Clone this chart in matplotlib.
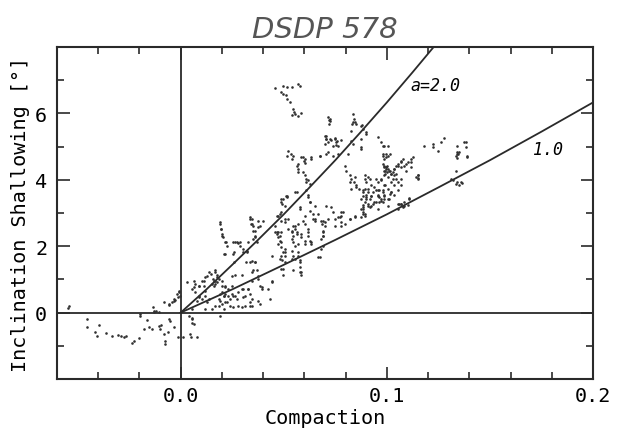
import matplotlib
matplotlib.use("Agg")
import matplotlib.pyplot as plt
from matplotlib.ticker import MultipleLocator

# scatter points (compaction, inclination shallowing in degrees)
pts_negative = [
    (-0.0544, 0.21), (-0.0548, 0.14), (-0.0452, -0.19), (-0.0452, -0.44), (-0.0415, -0.57),
    (-0.0396, -0.37), (-0.0404, -0.71), (-0.0364, -0.61), (-0.0335, -0.69), (-0.0306, -0.67),
    (-0.0291, -0.69), (-0.0275, -0.73), (-0.0267, -0.71), (-0.0235, -0.91), (-0.0227, -0.85),
    (-0.0200, -0.75), (-0.0195, -0.09), (-0.0195, -0.04), (-0.0179, -0.49), (-0.0163, -0.21),
    (-0.0155, -0.44), (-0.0138, -0.49), (-0.0134, 0.16), (-0.0130, 0.01), (-0.0122, 0.06),
    (-0.0106, -0.39), (-0.0098, -0.49), (-0.0093, -0.37), (-0.0082, -0.64), (-0.0077, -0.94),
    (-0.0074, -0.87), (-0.0061, -0.59), (-0.0055, -0.19), (-0.0050, -0.24), (-0.0034, -0.44),
    (-0.0082, 0.31), (-0.0058, 0.26), (-0.0042, 0.31), (-0.0034, 0.41), (-0.0026, 0.37),
    (-0.0018, 0.56), (-0.0010, 0.66), (-0.0006, 0.61), (-0.0002, 0.51), (-0.0013, -0.74),
    (-0.0127, 0.06), (-0.0106, 0.03), (-0.0058, 0.23), (-0.0034, 0.36), (-0.0014, 0.46),
]

pts_origin = [
    (0.0010, -0.74), (0.0047, -0.64), (0.0052, -0.74), (0.0055, -0.31), (0.0055, -0.17),
    (0.0079, -0.74), (0.0055, -0.19), (0.0063, -0.34), (0.0039, -0.09), (0.0192, -0.09),
    (0.0135, 1.22), (0.0148, 1.16), (0.0167, 1.27), (0.0176, 1.12), (0.0184, 1.01),
    (0.0160, 0.96), (0.0167, 0.86), (0.0119, 1.06), (0.0103, 0.96), (0.0087, 0.81),
    (0.0071, 0.86), (0.0063, 0.76), (0.0055, 0.71), (0.0031, 0.91), (0.0200, 0.96),
    (0.0216, 0.81), (0.0232, 0.71), (0.0216, 0.56), (0.0208, 0.49), (0.0192, 0.56),
    (0.0184, 0.41), (0.0200, 0.26), (0.0224, 0.31), (0.0240, 0.41), (0.0248, 0.56),
    (0.0264, 0.51), (0.0280, 0.61), (0.0296, 0.71), (0.0304, 0.46), (0.0312, 0.21),
    (0.0280, 0.21), (0.0256, 0.16), (0.0240, 0.21), (0.0167, 0.21), (0.0151, 0.11),
    (0.0135, 0.41), (0.0119, 0.51), (0.0119, 0.66), (0.0103, 0.41), (0.0087, 0.51),
    (0.0079, 0.36), (0.0055, 0.11), (0.0208, 0.11), (0.0216, 0.31), (0.0296, 0.16),
    (0.0337, 0.21), (0.0345, 0.41), (0.0337, 0.56), (0.0329, 0.71), (0.0111, 0.81),
    (0.0119, 0.11), (0.0127, 0.31), (0.0087, 0.46), (0.0071, 0.61), (0.0087, 0.81),
    (0.0063, 0.96), (0.0111, 0.96), (0.0127, 1.11), (0.0167, 1.21), (0.0176, 1.06),
    (0.0200, 0.81), (0.0248, 0.81), (0.0248, 1.11), (0.0159, 1.01), (0.0167, 0.96),
    (0.0176, 0.91), (0.0151, 0.86), (0.0164, 0.81), (0.0200, 0.61), (0.0208, 0.51),
    (0.0216, 0.76), (0.0232, 0.51), (0.0256, 0.51), (0.0272, 0.41), (0.0304, 0.71),
    (0.0312, 0.51), (0.0328, 0.71), (0.0336, 0.31), (0.0345, 0.21), (0.0377, 0.36),
    (0.0385, 0.26), (0.0393, 0.71), (0.0433, 0.41), (0.0441, 0.96), (0.0345, 0.96),
    (0.0192, 0.36), (0.0184, 0.21),
]

pts_lower = [
    (0.0192, 2.67), (0.0196, 2.52), (0.0200, 2.37), (0.0203, 2.27), (0.0219, 2.12),
    (0.0256, 2.12), (0.0272, 2.14), (0.0288, 2.12), (0.0325, 2.12), (0.0337, 2.82),
    (0.0341, 2.67), (0.0353, 2.47), (0.0361, 2.27), (0.0208, 1.77), (0.0256, 1.77),
    (0.0304, 1.92), (0.0320, 1.82), (0.0345, 1.54), (0.0316, 1.52), (0.0296, 1.12),
    (0.0264, 1.12), (0.0353, 1.27), (0.0216, 2.12), (0.0224, 2.02), (0.0264, 2.12),
    (0.0280, 2.10), (0.0288, 2.02), (0.0213, 1.77), (0.0261, 1.82), (0.0304, 1.82),
    (0.0320, 1.87), (0.0345, 2.82), (0.0353, 2.62), (0.0361, 2.32), (0.0336, 1.52),
    (0.0345, 1.21), (0.0361, 1.52), (0.0377, 1.11), (0.0385, 0.81), (0.0261, 1.52),
    (0.0336, 2.87), (0.0344, 2.67), (0.0377, 2.77), (0.0385, 2.62), (0.0191, 2.72),
    (0.0196, 2.52), (0.0200, 2.32), (0.0377, 2.57), (0.0360, 2.47), (0.0401, 2.77),
    (0.0352, 2.22), (0.0369, 2.12), (0.0369, 1.27), (0.0377, 1.02), (0.0360, 1.52),
    (0.0425, 0.71), (0.0393, 0.76), (0.0441, 0.92), (0.0497, 1.32), (0.0497, 1.12),
    (0.0546, 1.27), (0.0583, 1.22), (0.0586, 1.12), (0.0578, 1.37), (0.0578, 1.57),
    (0.0538, 1.62), (0.0554, 1.62), (0.0570, 1.72), (0.0489, 1.32), (0.0506, 1.52),
    (0.0506, 1.82), (0.0489, 1.72), (0.0441, 1.72), (0.0578, 1.52), (0.0578, 1.21),
]

pts_middle = [
    (0.0473, 2.92), (0.0489, 3.02), (0.0505, 2.82), (0.0457, 2.62), (0.0465, 2.42),
    (0.0489, 2.42), (0.0522, 2.52), (0.0554, 2.62), (0.0562, 2.42), (0.0586, 2.37),
    (0.0618, 2.42), (0.0650, 2.82), (0.0691, 2.42), (0.0699, 2.62), (0.0465, 2.92),
    (0.0481, 2.97), (0.0489, 2.77), (0.0505, 2.72), (0.0521, 2.82), (0.0457, 2.42),
    (0.0465, 2.37), (0.0473, 2.27), (0.0481, 2.17), (0.0473, 2.07), (0.0489, 1.97),
    (0.0505, 1.92), (0.0497, 1.82), (0.0505, 1.72), (0.0481, 1.62), (0.0493, 1.57),
    (0.0538, 2.47), (0.0546, 2.32), (0.0554, 2.52), (0.0562, 2.37), (0.0546, 2.12),
    (0.0554, 2.02), (0.0538, 1.87), (0.0546, 1.72), (0.0586, 2.27), (0.0602, 2.17),
    (0.0626, 2.17), (0.0634, 2.07), (0.0618, 2.52), (0.0594, 2.77), (0.0602, 2.92),
    (0.0578, 3.12), (0.0626, 3.07), (0.0642, 2.97), (0.0642, 2.82), (0.0650, 2.77),
    (0.0690, 2.77), (0.0686, 2.67), (0.0707, 3.22), (0.0731, 3.17), (0.0747, 2.82),
    (0.0771, 2.87), (0.0779, 2.92), (0.0787, 3.02), (0.0779, 2.62), (0.0819, 2.82),
    (0.0844, 2.87), (0.0876, 2.87), (0.0884, 3.12), (0.0892, 2.97), (0.0690, 2.47),
    (0.0690, 2.32), (0.0690, 2.02), (0.0682, 1.92), (0.0674, 1.67), (0.0538, 2.42),
    (0.0538, 2.22), (0.0546, 2.62), (0.0570, 2.07), (0.0570, 1.82), (0.0602, 2.07),
    (0.0618, 2.32), (0.0634, 2.12), (0.0667, 1.67), (0.0683, 2.22), (0.0691, 2.32),
    (0.0715, 2.82), (0.0747, 2.62), (0.0779, 2.72), (0.0570, 2.67), (0.0602, 2.67),
    (0.0473, 2.42), (0.0481, 2.32), (0.0489, 2.12), (0.0667, 2.97), (0.0683, 2.77),
    (0.0699, 2.72), (0.0739, 3.02), (0.0779, 3.02), (0.0763, 2.87), (0.0844, 2.92),
    (0.0819, 2.82), (0.0795, 2.67), (0.0497, 3.42), (0.0513, 3.50), (0.0493, 3.27),
    (0.0554, 3.63), (0.0610, 3.68), (0.0618, 3.48), (0.0626, 3.32), (0.0489, 3.33),
    (0.0505, 3.22), (0.0518, 3.52), (0.0562, 3.63), (0.0578, 3.17), (0.0626, 3.33),
    (0.0650, 3.22), (0.0514, 3.48), (0.0489, 3.42), (0.0618, 3.55),
]

pts_upper = [
    (0.0457, 6.76), (0.0497, 6.84), (0.0514, 6.79), (0.0538, 6.79), (0.0570, 6.89),
    (0.0578, 6.82), (0.0486, 6.64), (0.0497, 6.59), (0.0509, 6.54), (0.0518, 6.44),
    (0.0530, 6.34), (0.0546, 6.14), (0.0551, 6.05), (0.0557, 5.98), (0.0570, 5.93),
    (0.0583, 6.02), (0.0541, 5.95), (0.0718, 5.81), (0.0718, 5.68), (0.0707, 5.33),
    (0.0707, 5.23), (0.0715, 5.13), (0.0731, 5.21), (0.0747, 5.23), (0.0760, 5.18),
    (0.0739, 5.03), (0.0755, 5.05), (0.0522, 4.88), (0.0534, 4.78), (0.0546, 4.71),
    (0.0538, 4.63), (0.0518, 4.73), (0.0562, 4.43), (0.0570, 4.33), (0.0567, 4.48),
    (0.0594, 4.68), (0.0599, 4.58), (0.0602, 4.51), (0.0634, 4.63), (0.0674, 4.71),
    (0.0715, 4.83), (0.0594, 4.23), (0.0602, 4.13), (0.0610, 4.03), (0.0618, 3.98),
    (0.0626, 3.88), (0.0570, 4.23), (0.0610, 3.93), (0.0723, 5.83), (0.0715, 5.89),
    (0.0723, 5.78), (0.0836, 5.98), (0.0843, 5.83), (0.0836, 5.73), (0.0852, 5.68),
    (0.0881, 5.65), (0.0884, 5.53), (0.0699, 5.33), (0.0707, 5.23), (0.0702, 5.08),
    (0.0723, 5.23), (0.0747, 5.25), (0.0755, 5.13), (0.0780, 5.21), (0.0763, 5.03),
    (0.0828, 5.18), (0.0836, 5.08), (0.0876, 5.23), (0.0900, 5.38), (0.0957, 5.28),
    (0.0972, 5.13), (0.0988, 5.03), (0.0876, 4.98), (0.0586, 4.68), (0.0602, 4.63),
    (0.0634, 4.68), (0.0674, 4.73), (0.0707, 4.78), (0.0739, 4.73), (0.0763, 4.78),
    (0.0812, 4.78), (0.0831, 5.68), (0.0847, 5.73), (0.0876, 5.63), (0.0900, 5.43),
    (0.0828, 5.48), (0.0876, 4.93), (0.0981, 5.03), (0.1005, 5.03), (0.0981, 4.78),
    (0.0997, 4.68), (0.1013, 4.78),
]

pts_cluster = [
    (0.0795, 4.43), (0.0803, 4.28), (0.0819, 4.13), (0.0828, 4.03), (0.0843, 3.93),
    (0.0852, 3.83), (0.0980, 4.48), (0.0988, 4.43), (0.0996, 4.38), (0.1004, 4.33),
    (0.0985, 4.28), (0.1001, 4.23), (0.1012, 4.28), (0.1020, 4.18), (0.1028, 4.23),
    (0.1036, 4.33), (0.1044, 4.43), (0.1053, 4.48), (0.1069, 4.53), (0.1085, 4.43),
    (0.1101, 4.53), (0.1117, 4.63), (0.1125, 4.68), (0.0988, 4.63), (0.0980, 4.73),
    (0.0996, 4.78), (0.1004, 4.73), (0.1036, 4.13), (0.1044, 4.03), (0.1053, 3.93),
    (0.0988, 4.13), (0.0972, 4.03), (0.0956, 3.93), (0.0988, 3.83), (0.1004, 3.73),
    (0.1020, 3.63), (0.1036, 3.53), (0.0988, 3.53), (0.0972, 3.43), (0.0980, 3.33),
    (0.1012, 3.43), (0.0924, 3.83), (0.0908, 3.73), (0.0900, 3.53), (0.0916, 3.43),
    (0.0932, 3.63), (0.0883, 3.63), (0.0867, 3.73), (0.0875, 3.43), (0.0892, 3.33),
    (0.0883, 3.23), (0.0875, 3.13), (0.0883, 3.03), (0.0892, 2.92), (0.0932, 3.28),
    (0.0948, 3.33), (0.0956, 3.53), (0.0964, 3.68), (0.0892, 4.03), (0.0900, 3.93),
    (0.0908, 4.08), (0.0916, 4.03), (0.1149, 4.13), (0.1149, 4.05), (0.0819, 3.93),
    (0.0827, 3.73), (0.0844, 4.08), (0.0852, 3.78), (0.0892, 4.13), (0.0892, 3.73),
    (0.0884, 3.52), (0.0900, 3.42), (0.0924, 3.52), (0.0908, 3.22), (0.0884, 3.17),
    (0.0884, 2.97), (0.0940, 3.33), (0.0972, 3.37), (0.0988, 3.52), (0.1005, 3.42),
    (0.1013, 3.58), (0.1053, 3.27), (0.1077, 3.22), (0.1109, 3.42), (0.0900, 3.48),
    (0.0908, 3.63), (0.0884, 3.68), (0.0924, 3.52), (0.0956, 3.52), (0.0964, 3.32),
    (0.0988, 3.42), (0.0980, 3.68), (0.0948, 3.68), (0.0908, 3.27), (0.0916, 3.17),
    (0.1070, 4.58), (0.1077, 4.63), (0.1093, 4.48), (0.1117, 4.53), (0.1053, 4.43),
    (0.1037, 4.33), (0.1070, 4.38), (0.1045, 4.18), (0.1070, 4.03), (0.1093, 4.28),
    (0.1117, 4.38), (0.1149, 4.13), (0.1153, 4.03), (0.1070, 3.83), (0.1053, 3.68),
    (0.1021, 3.63), (0.1021, 3.93), (0.0997, 4.33), (0.0989, 4.18), (0.1005, 4.08),
    (0.1029, 4.03), (0.1037, 3.83), (0.0989, 3.83), (0.0973, 3.98), (0.0948, 4.03),
    (0.0940, 3.78), (0.0956, 3.68), (0.0981, 3.63), (0.0964, 3.47), (0.1005, 3.22),
    (0.1053, 3.12), (0.1061, 3.27), (0.1077, 3.17), (0.0956, 3.12), (0.0924, 3.22),
    (0.0985, 4.38), (0.0992, 4.28), (0.1001, 4.43), (0.1013, 4.28), (0.1018, 4.18),
    (0.0997, 4.38), (0.1069, 3.27), (0.1085, 3.22), (0.1101, 3.24), (0.1069, 3.28),
    (0.1085, 3.33), (0.1109, 3.45), (0.1141, 4.08),
]

pts_right = [
    (0.1181, 5.03), (0.1222, 5.08), (0.1222, 4.98), (0.1246, 4.88), (0.1262, 5.13),
    (0.1278, 5.25), (0.1339, 5.03), (0.1342, 4.78), (0.1350, 4.83), (0.1334, 4.73),
    (0.1375, 5.13), (0.1383, 4.98), (0.1391, 4.71), (0.1334, 4.28), (0.1342, 3.93),
    (0.1350, 3.83), (0.1366, 3.91), (0.1340, 4.83), (0.1346, 4.78), (0.1340, 4.65),
    (0.1383, 5.13), (0.1388, 4.68), (0.1311, 4.03), (0.1319, 3.98), (0.1335, 3.88),
    (0.1362, 3.93),
]

# model curves: shallowing vs compaction for a = 2.0 and a = 1.0
curve_a2_comp = [0.0, 0.0125, 0.025, 0.0375, 0.05, 0.0625, 0.075, 0.0875, 0.1, 0.1125, 0.125]
curve_a1_comp = [0.0, 0.025, 0.05, 0.075, 0.1, 0.125, 0.15, 0.175, 0.2]
curve_shallow = [0.0, 0.70, 1.44, 2.19, 2.96, 3.77, 4.59, 5.45, 6.33, 7.24, 8.17]

groups = [pts_negative, pts_origin, pts_lower, pts_middle, pts_upper, pts_cluster, pts_right]

mono = "DejaVu Sans Mono"
ink = "#2a2a2a"

fig = plt.figure(figsize=(6.18, 4.31), dpi=100)
ax = fig.add_axes([0.0922, 0.1183, 0.8673, 0.7703])

for g in groups:
    xs = [p[0] for p in g]
    ys = [p[1] for p in g]
    ax.scatter(xs, ys, s=3.5, color="#303030", linewidths=0, zorder=3)

ax.plot(curve_a2_comp, curve_shallow[:len(curve_a2_comp)], color=ink, lw=1.3, zorder=2)
ax.plot(curve_a1_comp, curve_shallow[:len(curve_a1_comp)], color=ink, lw=1.3, zorder=2)
ax.axhline(0, color=ink, lw=1.3, zorder=1)
ax.axvline(0, color=ink, lw=1.3, zorder=1)

ax.text(0.1115, 6.85, "a=2.0", fontsize=12, style="italic", family=mono, va="center", ha="left")
ax.text(0.1707, 4.93, "1.0", fontsize=12, style="italic", family=mono, va="center", ha="left")

ax.set_xlim(-0.06, 0.2)
ax.set_ylim(-2, 8)
ax.set_xticks([0.0, 0.1, 0.2])
ax.set_xticklabels(["0.0", "0.1", "0.2"])
ax.xaxis.set_minor_locator(MultipleLocator(0.02))
ax.set_yticks([0, 2, 4, 6])
ax.yaxis.set_minor_locator(MultipleLocator(1))
ax.tick_params(which="both", direction="in", top=True, right=True, width=1.2, color=ink)
ax.tick_params(which="major", length=9)
ax.tick_params(which="minor", length=5)
ax.tick_params(axis="x", which="major", pad=5)
ax.tick_params(axis="y", which="major", pad=7)
for lab in ax.get_xticklabels() + ax.get_yticklabels():
    lab.set_family(mono)
    lab.set_fontsize(14.5)

for s in ax.spines.values():
    s.set_linewidth(1.5)
    s.set_color(ink)

ax.set_xlabel("Compaction", family=mono, fontsize=14.5, labelpad=2)
ax.set_ylabel("Inclination Shallowing [°]", family=mono, fontsize=14.5, labelpad=4)
fig.text(0.526, 0.93, "DSDP 578", fontsize=21, style="italic", ha="center", va="center",
         family="DejaVu Sans", color="#555555")

fig.savefig("out.png", dpi=100)
plt.close(fig)
